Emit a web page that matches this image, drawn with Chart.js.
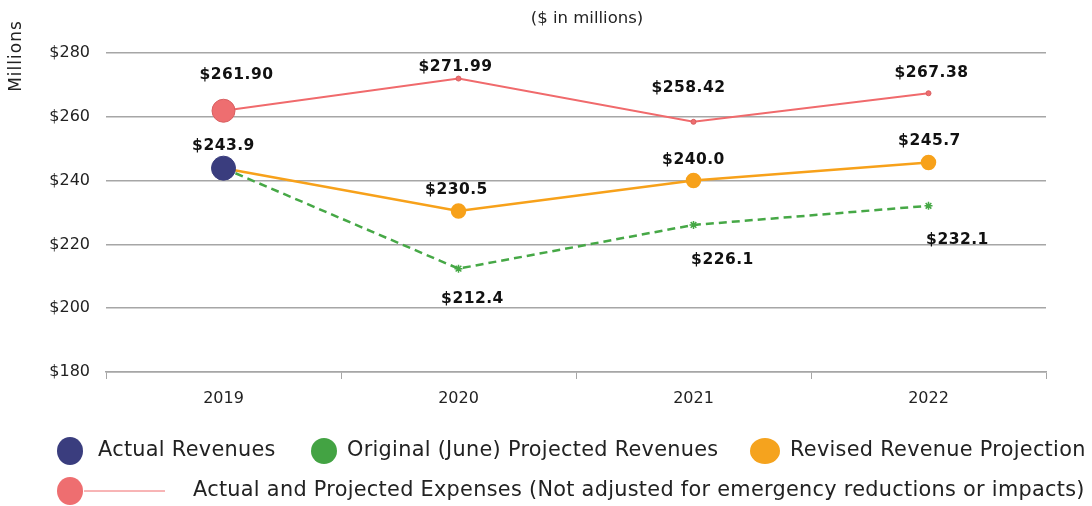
<!DOCTYPE html>
<html>
<head>
<meta charset="utf-8">
<script src="https://cdn.jsdelivr.net/npm/chart.js@4/dist/chart.umd.min.js"></script>
<style>
  body { margin: 0; background: #fff; }
  #wrap { width: 1092px; height: 506px; }
</style>
</head>
<body>
<div id="wrap"><canvas id="revChart" width="1092" height="506"></canvas></div>
<script>
// values
const years = ['2019', '2020', '2021', '2022'];
const actualRevenues = [243.9, null, null, null];
const originalProjected = [243.9, 212.4, 226.1, 232.1];
const revisedProjection = [243.9, 230.5, 240.0, 245.7];
const expenses = [261.90, 271.99, 258.42, 267.38];
const yTicks = [180, 200, 220, 240, 260, 280];

const FONT = '"DejaVu Sans", Verdana, sans-serif';

// which labels show, how they read, and where they sit relative to the point
const labelCfg = [
  { show: [true, false, false, false], fmt: v => '$' + v.toFixed(1), dx: [0, 0, 0, 0], dy: [-22, 0, 0, 0] },
  { show: [false, true, true, true], fmt: v => '$' + v.toFixed(1), dx: [0, 14, 29, 29], dy: [0, 30, 35, 34] },
  { show: [false, true, true, true], fmt: v => '$' + v.toFixed(1), dx: [0, -2, 0, 1], dy: [0, -21, -21, -21] },
  { show: [true, true, true, true], fmt: v => '$' + v.toFixed(2), dx: [13, -3, -5, 3], dy: [-36, -12, -34, -20] }
];

const dataLabels = {
  id: 'dataLabels',
  afterDatasetsDraw(chart) {
    const ctx = chart.ctx;
    ctx.save();
    ctx.font = 'bold 15.5px ' + FONT;
    ctx.letterSpacing = '0.5px';
    ctx.fillStyle = '#111';
    ctx.textAlign = 'center';
    ctx.textBaseline = 'middle';
    chart.data.datasets.forEach((ds, i) => {
      const cfg = labelCfg[i];
      chart.getDatasetMeta(i).data.forEach((pt, j) => {
        if (!cfg.show[j] || ds.data[j] == null) return;
        ctx.fillText(cfg.fmt(ds.data[j]), pt.x + cfg.dx[j], pt.y + cfg.dy[j]);
      });
    });
    ctx.restore();
  }
};

// fixed texts: subtitle, axis title and the two-row legend
const extras = {
  id: 'extras',
  afterDraw(chart) {
    const ctx = chart.ctx;
    const ds = chart.data.datasets;
    ctx.save();
    ctx.fillStyle = '#222';
    ctx.textBaseline = 'middle';

    ctx.font = '16.5px ' + FONT;
    ctx.textAlign = 'center';
    ctx.fillText('($ in millions)', 587, 19);

    ctx.save();
    ctx.translate(17, 56);
    ctx.rotate(-Math.PI / 2);
    ctx.font = '17px ' + FONT;
    ctx.letterSpacing = '1px';
    ctx.fillText('Millions', 0, 0);
    ctx.restore();

    const marker = (x, y, color, rx, ry) => {
      ctx.beginPath();
      ctx.ellipse(x, y, rx, ry, 0, 0, Math.PI * 2);
      ctx.fillStyle = color;
      ctx.fill();
    };
    ctx.font = '20.8px ' + FONT;
    ctx.textAlign = 'left';
    ctx.letterSpacing = '0.3px';
    const row1 = [
      { i: 0, mx: 70, tx: 98, rx: 13, ry: 14 },
      { i: 1, mx: 324, tx: 347, rx: 13, ry: 13 },
      { i: 2, mx: 765, tx: 790, rx: 15, ry: 13 }
    ];
    row1.forEach(it => {
      marker(it.mx, 451, ds[it.i].legendColor, it.rx, it.ry);
      ctx.fillStyle = '#222';
      ctx.fillText(ds[it.i].label, it.tx, 451);
    });
    ctx.strokeStyle = ds[3].borderColor;
    ctx.lineWidth = 1;
    ctx.beginPath();
    ctx.moveTo(84, 491);
    ctx.lineTo(165, 491);
    ctx.stroke();
    marker(70, 491, ds[3].legendColor, 13, 14);
    ctx.fillStyle = '#222';
    ctx.fillText(ds[3].label, 193, 491);
    ctx.restore();
  }
};

new Chart(document.getElementById('revChart'), {
  type: 'line',
  data: {
    labels: years,
    datasets: [
      {
        label: 'Actual Revenues',
        data: actualRevenues,
        legendColor: '#3A3D7E',
        borderColor: '#3A3D7E',
        backgroundColor: '#3A3D7E',
        pointRadius: 12,
        pointHoverRadius: 12,
        showLine: false
      },
      {
        label: 'Original (June) Projected Revenues',
        data: originalProjected,
        legendColor: '#43A343',
        borderColor: '#46A846',
        backgroundColor: '#46A846',
        borderWidth: 2.5,
        borderDash: [8, 5],
        pointStyle: 'star',
        pointRadius: [0, 4, 4, 4],
        pointBorderWidth: 1.5,
        tension: 0
      },
      {
        label: 'Revised Revenue Projection',
        data: revisedProjection,
        legendColor: '#F5A31E',
        borderColor: '#F7A11A',
        backgroundColor: '#F7A11A',
        borderWidth: 2.5,
        pointRadius: [0, 6.5, 6.5, 6.5],
        tension: 0
      },
      {
        label: 'Actual and Projected Expenses (Not adjusted for emergency reductions or impacts)',
        data: expenses,
        legendColor: '#EE6E70',
        borderColor: '#F06A6C',
        backgroundColor: '#EE6E70',
        borderWidth: 2,
        pointRadius: [11.5, 2.5, 2.5, 2.5],
        pointBorderWidth: [1, 1, 1, 1],
        pointBorderColor: '#D85F61',
        tension: 0
      }
    ]
  },
  options: {
    responsive: false,
    animation: false,
    layout: { padding: { top: 53, right: 46, left: 0, bottom: 0 } },
    plugins: {
      legend: { display: false },
      tooltip: { enabled: false },
      title: { display: false }
    },
    scales: {
      x: {
        offset: true,
        grid: {
          offset: true,
          drawOnChartArea: false,
          tickLength: 7,
          color: '#a6a6a6'
        },
        border: { color: '#a6a6a6', width: 1.5 },
        ticks: { color: '#222', font: { family: FONT, size: 16 }, padding: 10 },
        afterFit: s => { s.height = 134; }
      },
      y: {
        min: 180,
        max: 280,
        afterBuildTicks: s => { s.ticks = yTicks.map(v => ({ value: v })); },
        grid: { drawTicks: false, color: '#a6a6a6', lineWidth: 1.5 },
        border: { display: false },
        ticks: {
          color: '#222',
          font: { family: FONT, size: 16 },
          padding: 16,
          callback: v => '$' + v
        },
        afterFit: s => { s.width = 106; }
      }
    }
  },
  plugins: [dataLabels, extras]
});
</script>
</body>
</html>
